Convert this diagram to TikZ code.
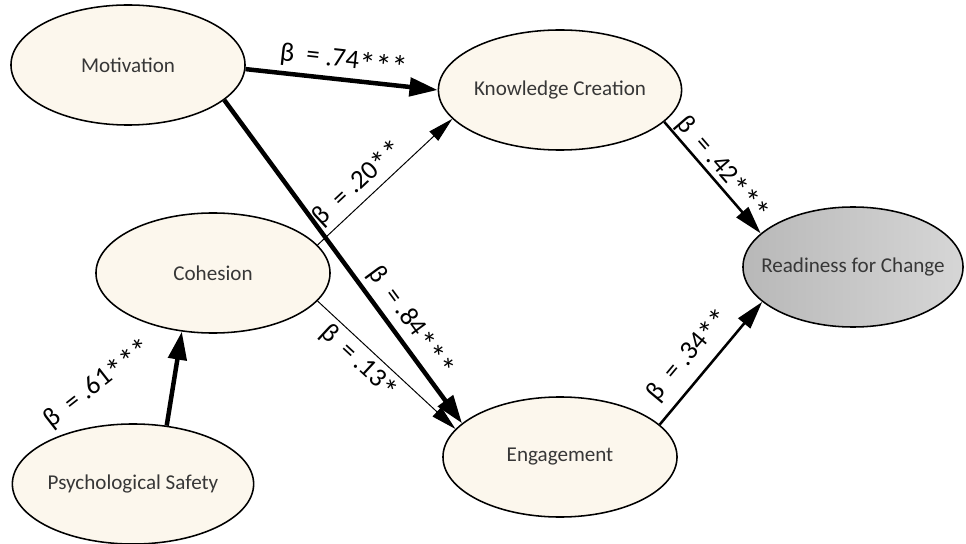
\documentclass[tikz,border=0pt]{standalone}
\usepackage{fontspec}
\setmainfont{Carlito}
\usetikzlibrary{shapes.geometric}
\usetikzlibrary{arrows.meta}
\definecolor{cream}{RGB}{252,247,237}
\definecolor{rcdark}{RGB}{184,184,184}
\definecolor{rclight}{RGB}{214,214,214}
\definecolor{txtgray}{RGB}{55,55,55}
\newcommand{\sig}[1]{\raisebox{-4pt}{\fontsize{23}{23}\selectfont #1}}
\tikzset{var/.style={ellipse, draw, line width=1.1pt, fill=cream, minimum width=5.85cm, minimum height=3cm, inner sep=0pt, text=txtgray, font=\fontsize{15}{18}\selectfont}}
\tikzset{outcome/.style={left color=rcdark, right color=rclight}}
\tikzset{coef/.style={sloped, font=\fontsize{19}{22}\selectfont}}
\tikzset{heavy/.style={line width=3.2pt, -{Triangle[length=20pt,width=13pt]}}}
\tikzset{medium/.style={line width=1.8pt, -{Triangle[length=20pt,width=11pt]}}}
\tikzset{light/.style={line width=0.7pt, -{Triangle[length=18pt,width=9pt]}}}

\begin{document}
\begin{tikzpicture}[x=0.025cm,y=-0.025cm]
\useasboundingbox (0,0) rectangle (966,544);
\node[var] (mot) at (128,65) {Motivation};
\node[var] (kc) at (560,90) {Knowledge Creation};
\node[var] (coh) at (213,273) {Cohesion};
\node[var] (ps) at (133,484) {Psychological Safety};
\node[var] (eng) at (560,457) {Engagement};
\node[var, outcome, minimum width=5.5cm, inner xsep=-14pt] (rc) at (853,267) {Readiness for Change};
% paths
\draw[heavy] (mot.-2) -- node[coef, above] {β\ \ = .74\sig{***}} (kc.180);
\draw[light] (coh.15) -- node[coef, above, pos=0.39] {β\ \ = .20\sig{**}} (kc.195);
\draw[heavy] (mot.-20) -- node[coef, above, pos=0.72] {β\ \ = .84\sig{***}} (eng.161);
\draw[light] (coh.-15) -- node[coef, below, pos=0.38] {β\ \ = .13\sig{*}} (eng.165);
\draw[heavy] (ps.60) -- (coh.-118);
\node[coef, rotate=38] (b61) at (98,384) {β\ \ = .61\sig{***}};
\draw[medium] (kc.-17) -- node[coef, above, inner sep=0pt] {β\ \ = .42\sig{***}} (rc.160);
\draw[medium] (eng.18) -- node[coef, above=3pt, pos=0.45] {β\ \ = .34\sig{**}} (rc.-159);
\end{tikzpicture}
\end{document}
